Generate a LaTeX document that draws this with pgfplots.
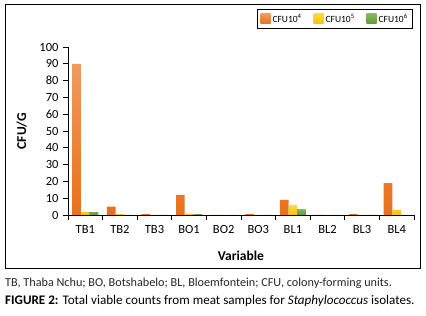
\documentclass[border=0pt]{standalone}
\usepackage{pgfplots}
\pgfplotsset{compat=1.18}
\usepackage{fontspec}
\setmainfont{Carlito}
\definecolor{cOr}{HTML}{E8701A}
\definecolor{cOrL}{HTML}{F09A5E}
\definecolor{cYe}{HTML}{FFC000}
\definecolor{cYeL}{HTML}{FFD84D}
\definecolor{cGr}{HTML}{5E9A35}
\definecolor{cGrL}{HTML}{85BA5E}
\begin{document}
\begin{tikzpicture}[x=1pt,y=1pt]
\useasboundingbox (0,0) rectangle (426,316);
\draw[line width=1pt] (5,47) rectangle (420,311);
\begin{axis}[
  at={(68pt,101pt)}, anchor=south west,
  scale only axis, width=346pt, height=168pt,
  ybar=0pt, bar width=8.7pt,
  xmin=-0.5, xmax=9.5, ymin=0, ymax=100,
  ytick={0,10,...,100},
  xtick={0,...,9},
  xticklabels={TB1,TB2,TB3,BO1,BO2,BO3,BL1,BL2,BL3,BL4},
  minor xtick={-0.5,0.5,...,9.5},
  axis lines*=left,
  axis line style={line width=0.8pt},
  tick align=outside,
  major tick length=5pt, minor tick length=5pt,
  x tick style={draw=none},
  minor x tick style={draw=black, line width=0.8pt},
  y tick style={draw=black, line width=0.8pt},
  tick label style={font=\fontsize{12.5}{14}\selectfont},
  yticklabel style={xshift=-1pt},
  xticklabel style={yshift=-2pt},
  /pgf/number format/assume math mode=true,
  ylabel={\textbf{CFU/G}},
  xlabel={\textbf{Variable}},
  ylabel style={at={(axis description cs:-0.134,0.5)}, anchor=center, font=\fontsize{13.5}{15}\selectfont},
  xlabel style={at={(axis description cs:0.5,-0.244)}, anchor=center, font=\fontsize{13.5}{15}\selectfont},
  legend style={at={(0.772,1.167)}, anchor=center, draw=black, line width=0.8pt,
    font=\fontsize{9.5}{11}\selectfont, legend columns=3,
    inner ysep=3pt,
    /tikz/every even column/.append style={column sep=10pt}},
  legend image code/.code={\path[#1, draw=none] (0pt,-5pt) rectangle (10pt,5pt);},
]
\addplot[draw=none, top color=cOrL, bottom color=cOr] coordinates {(0,90) (1,5) (2,0.5) (3,12) (4,0) (5,0.5) (6,9) (7,0) (8,0.5) (9,19)};
\addplot[draw=none, top color=cYeL, bottom color=cYe] coordinates {(0,1.7) (1,0.5) (2,0) (3,0.5) (4,0) (5,0) (6,6) (7,0) (8,0) (9,3)};
\addplot[draw=none, top color=cGrL, bottom color=cGr] coordinates {(0,1.7) (1,0) (2,0) (3,0.5) (4,0) (5,0) (6,3.5) (7,0) (8,0) (9,0)};
\legend{CFU10\textsuperscript{4},CFU10\textsuperscript{5},CFU10\textsuperscript{6}}
\end{axis}
\node[anchor=base west, inner sep=0, text=black!85, font=\fontsize{12.2}{14}\selectfont] at (5,29) {TB, Thaba Nchu; BO, Botshabelo; BL, Bloemfontein; CFU, colony-forming units.};
\node[anchor=base west, inner sep=0, font=\fontsize{13.1}{15}\selectfont] at (5,11) {\textbf{FIGURE 2:} Total viable counts from meat samples for \textit{Staphylococcus} isolates.};
\end{tikzpicture}
\end{document}
